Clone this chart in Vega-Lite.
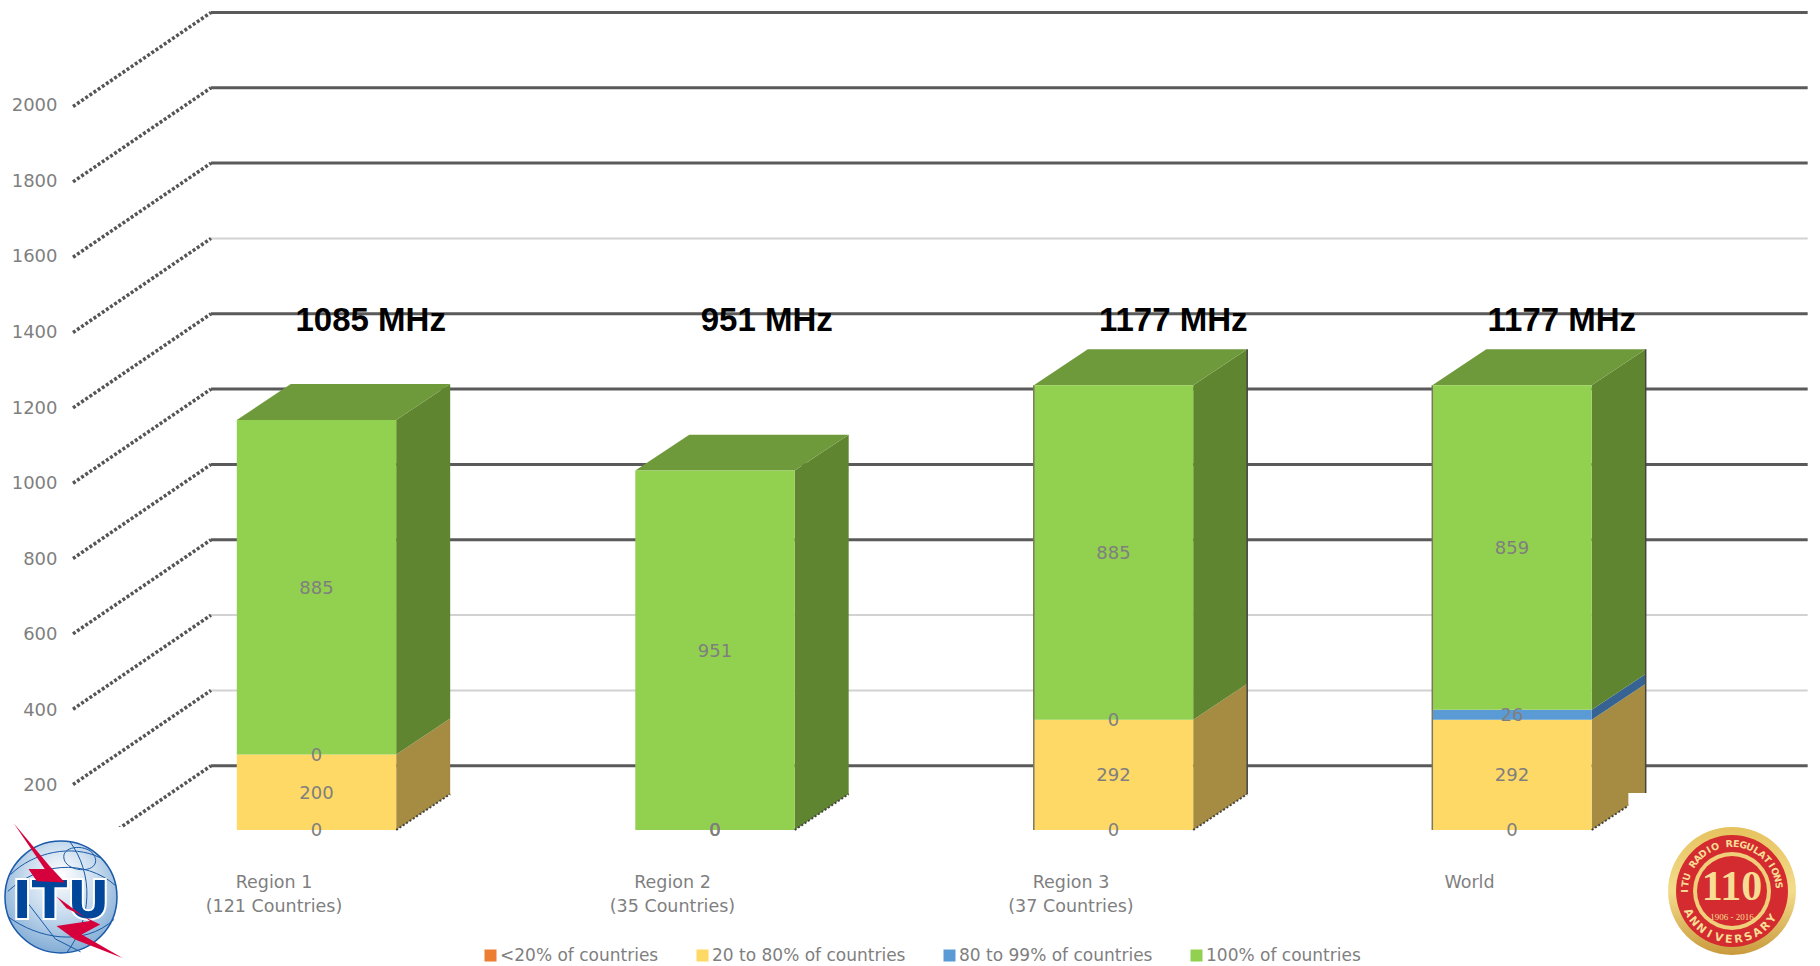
{
"$schema":"https://vega.github.io/schema/vega-lite/v6.json",
"width":1820,"height":966,"padding":0,"autosize":{"type":"none"},"background":"white",
"config":{"view":{"stroke":null},"text":{"font":"DejaVu Sans"},"axis":{"title":null,"grid":false,"domain":false,"ticks":false}},
"datasets":{
"rows":[
{"region":"Region 1","series":"<20% of countries","value":0},
{"region":"Region 1","series":"20 to 80% of countries","value":200},
{"region":"Region 1","series":"80 to 99% of countries","value":0},
{"region":"Region 1","series":"100% of countries","value":885},
{"region":"Region 2","series":"<20% of countries","value":0},
{"region":"Region 2","series":"20 to 80% of countries","value":0},
{"region":"Region 2","series":"80 to 99% of countries","value":0},
{"region":"Region 2","series":"100% of countries","value":951},
{"region":"Region 3","series":"<20% of countries","value":0},
{"region":"Region 3","series":"20 to 80% of countries","value":292},
{"region":"Region 3","series":"80 to 99% of countries","value":0},
{"region":"Region 3","series":"100% of countries","value":885},
{"region":"World","series":"<20% of countries","value":0},
{"region":"World","series":"20 to 80% of countries","value":292},
{"region":"World","series":"80 to 99% of countries","value":26},
{"region":"World","series":"100% of countries","value":859}
],
"ticks":[{"v":0},{"v":200},{"v":400},{"v":600},{"v":800},{"v":1000},{"v":1200},{"v":1400},{"v":1600},{"v":1800},{"v":2000}],
"logo":[{"name":"ITU"}],
"badge":[{"name":"110"}]
},
"data":{"name":"rows"},
"transform":[
{"calculate":"indexof(['Region 1','Region 2','Region 3','World'],datum.region)","as":"i"},
{"calculate":"indexof(['<20% of countries','20 to 80% of countries','80 to 99% of countries','100% of countries'],datum.series)","as":"ord"},
{"stack":"value","groupby":["region"],"sort":[{"field":"ord","order":"ascending"}],"as":["y0","y1"]},
{"calculate":"datum.i-0.2","as":"xl"},
{"calculate":"datum.i+0.2","as":"xr"}
],
"layer":[
{"data":{"name":"ticks"},
"transform":[{"calculate":"datum.v*0.9967+170","as":"w"},{"calculate":"-0.2647","as":"ax"},{"calculate":"3.742","as":"bx"}],
"mark":{"type":"rule"},
"encoding":{
"x":{"field":"ax","type":"quantitative","scale":{"domain":[-0.7942,3.7729],"nice":false,"zero":false},
"axis":{"title":null,"orient":"bottom","offset":-94,"values":[0,1,2,3],"grid":false,"domain":false,"ticks":false,"labelPadding":1,"labelBaseline":"top","labelOffset":-43,"labelFont":"DejaVu Sans","labelFontSize":17.5,"labelColor":"#7f7f7f","labelLineHeight":24,"labelOverlap":false,"labelFlush":false,
"labelExpr":"[['Region 1','(121 Countries)'],['Region 2','(35 Countries)'],['Region 3','(37 Countries)'],['World']][datum.value]"}},
"x2":{"field":"bx"},
"y":{"field":"w","type":"quantitative","scale":{"domain":[-359.9,2196.3],"nice":false,"zero":false},
"axis":{"title":null,"orient":"left","offset":-57,"values":[200,400,600,800,1000,1200,1400,1600,1800,2000],"format":"d","grid":false,"domain":false,"ticks":false,"labelPadding":0,"labelOffset":31.5,"labelFont":"DejaVu Sans","labelFontSize":18,"labelColor":"#7f7f7f","labelOverlap":false,"labelFlush":false}},
"color":{"condition":{"test":"indexof([1400,400,200],datum.v)>=0","value":"#d2d2d2"},"value":"#5a5a5a"},
"strokeWidth":{"condition":{"test":"indexof([1400,400,200],datum.v)>=0","value":2},"value":3}
}},
{"data":{"name":"ticks"},
"transform":[{"calculate":"[0,1]","as":"t"},{"flatten":["t"]},{"calculate":"-0.611+datum.t*0.3463","as":"dx"},{"calculate":"datum.v*0.9967-79+datum.t*249","as":"dy"}],
"mark":{"type":"line","strokeDash":[3,2],"strokeWidth":3.5,"color":"#555555"},
"encoding":{"x":{"field":"dx","type":"quantitative"},"y":{"field":"dy","type":"quantitative"},"detail":{"field":"v","type":"nominal"}}},
{"transform":[{"filter":"datum.ord==1 && datum.value>0"},{"calculate":"[0,1]","as":"t"},{"flatten":["t"]},{"calculate":"datum.xr+datum.t*0.1355","as":"sx"},{"calculate":"datum.y0+datum.t*95","as":"sa"},{"calculate":"datum.y1+datum.t*95","as":"sb"}],
"mark":{"type":"area","interpolate":"linear","color":"#a58c42"},
"encoding":{"x":{"field":"sx","type":"quantitative"},"y":{"field":"sa","type":"quantitative","stack":null},"y2":{"field":"sb"},"detail":{"field":"region","type":"nominal"}}},
{"transform":[{"filter":"datum.ord==2 && datum.value>0"},{"calculate":"[0,1]","as":"t"},{"flatten":["t"]},{"calculate":"datum.xr+datum.t*0.1355","as":"sx"},{"calculate":"datum.y0+datum.t*95","as":"sa"},{"calculate":"datum.y1+datum.t*95","as":"sb"}],
"mark":{"type":"area","interpolate":"linear","color":"#376392"},
"encoding":{"x":{"field":"sx","type":"quantitative"},"y":{"field":"sa","type":"quantitative","stack":null},"y2":{"field":"sb"},"detail":{"field":"region","type":"nominal"}}},
{"transform":[{"filter":"datum.ord==3 && datum.value>0"},{"calculate":"[0,1]","as":"t"},{"flatten":["t"]},{"calculate":"datum.xr+datum.t*0.1355","as":"sx"},{"calculate":"datum.y0+datum.t*95","as":"sa"},{"calculate":"datum.y1+datum.t*95","as":"sb"}],
"mark":{"type":"area","interpolate":"linear","color":"#5f8531"},
"encoding":{"x":{"field":"sx","type":"quantitative"},"y":{"field":"sa","type":"quantitative","stack":null},"y2":{"field":"sb"},"detail":{"field":"region","type":"nominal"}}},
{"transform":[{"filter":"datum.ord==3"},{"calculate":"[0,1,2,3]","as":"t"},{"flatten":["t"]},{"calculate":"[datum.xl,datum.xl+0.1355,datum.xr,datum.xr+0.1355][datum.t]","as":"sx"},{"calculate":"[datum.y1,datum.y1+95,datum.y1+95,datum.y1+95][datum.t]","as":"sa"},{"calculate":"[datum.y1,datum.y1,datum.y1,datum.y1+95][datum.t]","as":"sb"}],
"mark":{"type":"area","interpolate":"linear","color":"#6f9a3b"},
"encoding":{"x":{"field":"sx","type":"quantitative"},"y":{"field":"sa","type":"quantitative","stack":null},"y2":{"field":"sb"},"detail":{"field":"region","type":"nominal"}}},
{"transform":[{"filter":"datum.value>0"}],
"mark":{"type":"rect"},
"encoding":{"x":{"field":"xl","type":"quantitative"},"x2":{"field":"xr"},"y":{"field":"y0","type":"quantitative"},"y2":{"field":"y1"},
"color":{"field":"series","type":"nominal","scale":{"domain":["<20% of countries","20 to 80% of countries","80 to 99% of countries","100% of countries"],"range":["#ed7d31","#ffd966","#5b9bd5","#92d050"]},
"legend":{"title":null,"orient":"none","legendX":482,"legendY":947,"direction":"horizontal","columns":4,"gridAlign":"none","columnPadding":35,"padding":0,"symbolType":"square","symbolSize":144,"symbolStrokeWidth":0,"labelOffset":1,"labelFont":"DejaVu Sans","labelFontSize":17,"labelColor":"#7f7f7f","labelLimit":300}}}},
{"transform":[{"filter":"datum.ord==0"},{"calculate":"[0,1]","as":"t"},{"flatten":["t"]},{"calculate":"datum.xr+datum.t*0.1355","as":"sx"},{"calculate":"datum.t*95","as":"sa"}],
"mark":{"type":"line","strokeDash":[2,2],"strokeWidth":2,"color":"#444444"},
"encoding":{"x":{"field":"sx","type":"quantitative"},"y":{"field":"sa","type":"quantitative"},"detail":{"field":"region","type":"nominal"}}},
{"transform":[{"filter":"datum.ord==3 && datum.i>=2"},{"calculate":"datum.xr+0.1355","as":"bx"},{"calculate":"datum.y1+95","as":"bt"},{"calculate":"95","as":"bb"}],
"mark":{"type":"rule","color":"#444444","strokeWidth":1.5},
"encoding":{"x":{"field":"bx","type":"quantitative"},"y":{"field":"bb","type":"quantitative"},"y2":{"field":"bt"}}},
{"transform":[{"filter":"datum.ord==3 && datum.i>=2"},{"calculate":"0","as":"bb"}],
"mark":{"type":"rule","color":"#7a7a5a","strokeWidth":1.5},
"encoding":{"x":{"field":"xl","type":"quantitative"},"y":{"field":"bb","type":"quantitative"},"y2":{"field":"y1"}}},
{"transform":[{"calculate":"(datum.y0+datum.y1)/2","as":"ym"}],
"mark":{"type":"text","fontSize":18,"color":"#7f7f7f","baseline":"middle","align":"center","dy":1.5},
"encoding":{"x":{"field":"i","type":"quantitative"},"y":{"field":"ym","type":"quantitative"},"text":{"field":"value","type":"quantitative"}}},
{"transform":[{"filter":"datum.ord==3"},{"calculate":"datum.y1+' MHz'","as":"label"},{"calculate":"datum.i+[0.136,0.13,0.15,0.125][datum.i]","as":"lx"},{"calculate":"1347","as":"ly"}],
"mark":{"type":"text","font":"Liberation Sans","fontWeight":"bold","fontSize":33,"color":"#000000","baseline":"middle","align":"center"},
"encoding":{"x":{"field":"lx","type":"quantitative"},"y":{"field":"ly","type":"quantitative"},"text":{"field":"label","type":"nominal"}}},
{"data":{"name":"logo"},"transform":[{"calculate":"-0.7942","as":"a"},{"calculate":"-0.4856","as":"b"},{"calculate":"-359.9","as":"c"},{"calculate":"8","as":"d"}],"mark":{"type":"rect","color":"#ffffff"},
"encoding":{"x":{"field":"a","type":"quantitative"},"x2":{"field":"b"},"y":{"field":"c","type":"quantitative"},"y2":{"field":"d"}}},
{"data":{"name":"badge"},"transform":[{"calculate":"3.292","as":"a"},{"calculate":"3.7729","as":"b"},{"calculate":"-359.9","as":"c"},{"calculate":"98","as":"d"}],"mark":{"type":"rect","color":"#ffffff"},
"encoding":{"x":{"field":"a","type":"quantitative"},"x2":{"field":"b"},"y":{"field":"c","type":"quantitative"},"y2":{"field":"d"}}},
{"data":{"name":"logo"},"transform":[{"calculate":"-0.6412","as":"px"},{"calculate":"-177.2","as":"py"}],
"layer":[
{"mark":{"type":"point","filled":true,"shape":"circle","size":12544,"opacity":1,"stroke":"#1a5aa8","strokeWidth":1.5,"fill":{"gradient":"radial","x1":0.5,"y1":0.3,"r1":0,"x2":0.5,"y2":0.4,"r2":0.7,"stops":[{"offset":0,"color":"#ffffff"},{"offset":0.45,"color":"#c9dcee"},{"offset":1,"color":"#6f9fcf"}]}},
"encoding":{"x":{"field":"px","type":"quantitative"},"y":{"field":"py","type":"quantitative"}}},
{"mark":{"type":"point","filled":false,"size":12544,"opacity":1,"stroke":"#1a5aa8","strokeWidth":1,"shape":"M-0.9,-0.4C-0.5,-0.8 0.2,-0.95 0.7,-0.7M-0.95,0.35C-0.4,0.75 0.4,0.9 0.95,0.4M0.15,-1C0.6,-0.4 0.55,0.4 0.1,1M-0.6,0.1L-0.1,0.75L0.35,0.98M0.05,-0.72C0.05,-0.95 0.6,-0.95 0.62,-0.65C0.62,-0.4 0.05,-0.45 0.05,-0.72M-0.95,-0.1C-0.4,-0.6 0.4,-0.7 0.98,-0.2"},
"encoding":{"x":{"field":"px","type":"quantitative"},"y":{"field":"py","type":"quantitative"}}},
{"mark":{"type":"text","font":"DejaVu Sans","fontWeight":"bold","fontSize":52,"stroke":"#ffffff","strokeWidth":4,"baseline":"middle","align":"center","dy":5},
"encoding":{"x":{"field":"px","type":"quantitative"},"y":{"field":"py","type":"quantitative"},"text":{"field":"name","type":"nominal"}}},
{"mark":{"type":"text","font":"DejaVu Sans","fontWeight":"bold","fontSize":52,"color":"#00479b","baseline":"middle","align":"center","dy":5},
"encoding":{"x":{"field":"px","type":"quantitative"},"y":{"field":"py","type":"quantitative"},"text":{"field":"name","type":"nominal"}}},
{"mark":{"type":"point","filled":true,"size":12544,"opacity":1,"color":"#d6003c","strokeWidth":0,"shape":"M-0.84,-1.31L-0.2,-0.55L0.07,-0.26L-0.43,-0.28L-0.58,-0.5L-0.29,-0.5ZM-0.08,-0.01L0.1,0.2L0.7,0.49L0.37,0.67L1.1,1.09L0.25,0.76L-0.08,0.52L0.52,0.43Z"},
"encoding":{"x":{"field":"px","type":"quantitative"},"y":{"field":"py","type":"quantitative"}}}
]},
{"data":{"name":"badge"},"transform":[{"calculate":"3.5521","as":"px"},{"calculate":"-161.4","as":"py"}],
"layer":[
{"mark":{"type":"point","filled":true,"shape":"circle","size":16384,"opacity":1,"fill":{"gradient":"linear","x1":0,"y1":0,"x2":0,"y2":1,"stops":[{"offset":0,"color":"#e6c25e"},{"offset":0.5,"color":"#f3dc8c"},{"offset":1,"color":"#c99a3c"}]}},
"encoding":{"x":{"field":"px","type":"quantitative"},"y":{"field":"py","type":"quantitative"}}},
{"mark":{"type":"point","filled":true,"shape":"circle","size":12544,"opacity":1,"color":"#d32b2f"},
"encoding":{"x":{"field":"px","type":"quantitative"},"y":{"field":"py","type":"quantitative"}}},
{"mark":{"type":"point","filled":true,"shape":"circle","size":6084,"opacity":1,"color":"#f0cf7a"},
"encoding":{"x":{"field":"px","type":"quantitative"},"y":{"field":"py","type":"quantitative"}}},
{"mark":{"type":"point","filled":true,"shape":"circle","size":4900,"opacity":1,"color":"#d32b2f"},
"encoding":{"x":{"field":"px","type":"quantitative"},"y":{"field":"py","type":"quantitative"}}},
{"mark":{"type":"text","font":"Liberation Serif","fontWeight":"bold","fontSize":42,"color":"#f7dd94","baseline":"middle","align":"center","dy":-4},
"encoding":{"x":{"field":"px","type":"quantitative"},"y":{"field":"py","type":"quantitative"},"text":{"field":"name","type":"nominal"}}},
{"transform":[{"calculate":"'1906 - 2016'","as":"yr"}],"mark":{"type":"text","font":"Liberation Serif","fontSize":9,"color":"#f7dd94","baseline":"middle","align":"center","dy":26},
"encoding":{"x":{"field":"px","type":"quantitative"},"y":{"field":"py","type":"quantitative"},"text":{"field":"yr","type":"nominal"}}},
{"transform":[{"calculate":"split('ITU RADIO REGULATIONS','')","as":"c"},{"flatten":["c"]},{"window":[{"op":"row_number","as":"n"}]},{"calculate":"-90+(datum.n-1)*8.65","as":"a"},{"calculate":"datum.px+47*sin(datum.a*PI/180)/398.5","as":"cx"},{"calculate":"datum.py+47*cos(datum.a*PI/180)/0.3779","as":"cy"},{"calculate":"(datum.a+360)%360","as":"ang"}],
"mark":{"type":"text","font":"DejaVu Sans","fontWeight":"bold","fontSize":9.5,"color":"#f7dd94","baseline":"middle","align":"center"},
"encoding":{"x":{"field":"cx","type":"quantitative"},"y":{"field":"cy","type":"quantitative"},"text":{"field":"c","type":"nominal"},"angle":{"field":"ang","type":"quantitative","scale":null}}},
{"transform":[{"calculate":"split('ANNIVERSARY','')","as":"c"},{"flatten":["c"]},{"window":[{"op":"row_number","as":"n"}]},{"calculate":"-63+(datum.n-1)*11.8","as":"a"},{"calculate":"datum.px+49*sin(datum.a*PI/180)/398.5","as":"cx"},{"calculate":"datum.py-49*cos(datum.a*PI/180)/0.3779","as":"cy"},{"calculate":"(360-datum.a)%360","as":"ang"}],
"mark":{"type":"text","font":"DejaVu Sans","fontWeight":"bold","fontSize":11,"color":"#f7dd94","baseline":"middle","align":"center"},
"encoding":{"x":{"field":"cx","type":"quantitative"},"y":{"field":"cy","type":"quantitative"},"text":{"field":"c","type":"nominal"},"angle":{"field":"ang","type":"quantitative","scale":null}}}
]}
]
}
